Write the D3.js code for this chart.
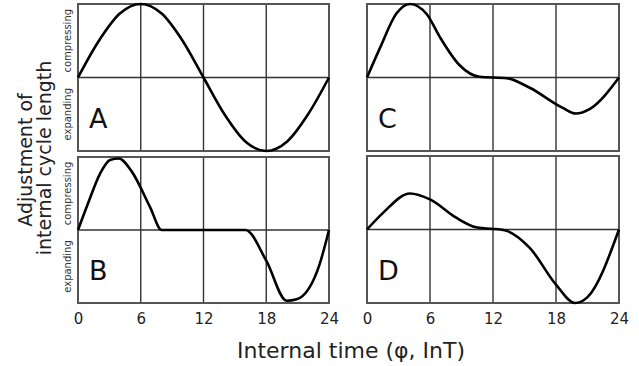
<!DOCTYPE html>
<html>
<head>
<meta charset="utf-8">
<script src="https://cdn.jsdelivr.net/npm/d3@7"></script>
<style>
  body { margin: 0; background: #fff; }
  svg { display: block; font-family: "DejaVu Sans", Verdana, sans-serif; }
</style>
</head>
<body>
<svg id="chart" width="639" height="366"></svg>
<script>
// hours of internal time, shared by the x axes
const xTicks = [0, 6, 12, 18, 24];

// panel curves: [hour, adjustment] with adjustment in -1..1
const curveA = [[0, 0], [2, 0.5], [4, 0.87], [6, 1], [8, 0.87], [10, 0.5], [12, 0], [14, -0.5], [16, -0.87], [18, -1], [20, -0.87], [22, -0.5], [24, 0]];
const curveB = [[0, 0], [1, 0.38], [2.1, 0.77], [3.06, 0.96], [3.9, 0.98], [5.1, 0.81], [6.9, 0.31], [8, 0], [12, 0], [16, 0], [18, -0.42], [19.95, -0.97], [20.9, -0.95], [23.1, -0.47], [24, 0]];
const curveC = [[0, 0], [1.26, 0.41], [2.8, 0.87], [4.1, 1.0], [5.7, 0.86], [6.9, 0.56], [8.8, 0.17], [10.7, 0.01], [13.3, -0.01], [15.5, -0.14], [18.6, -0.41], [19.9, -0.49], [21.2, -0.43], [24, 0]];
const curveD = [[0, 0], [1.55, 0.23], [4.1, 0.49], [6, 0.41], [8.5, 0.16], [10.4, 0.03], [13.1, -0.01], [15.5, -0.25], [18, -0.75], [19.8, -1.0], [21, -0.92], [24, 0]];

const panelLabels = ["A", "B", "C", "D"];

const svg = d3.select("#chart");

const panels = [
    { name: "A", data: curveA, left: 78, right: 329, top: 4, bottom: 151 },
    { name: "B", data: curveB, left: 78, right: 329, top: 157, bottom: 303 },
    { name: "C", data: curveC, left: 367, right: 619, top: 4, bottom: 151 },
    { name: "D", data: curveD, left: 367, right: 619, top: 156, bottom: 303 }
];

panels.forEach((p, i) => {
    const x = d3.scaleLinear().domain([0, 24]).range([p.left, p.right]);
    const y = d3.scaleLinear().domain([-1, 1]).range([p.bottom, p.top]);
    const g = svg.append("g");

    // vertical grid lines
    g.selectAll(".vgrid")
        .data(xTicks.slice(1, -1))
        .enter().append("line")
        .attr("x1", d => x(d)).attr("x2", d => x(d))
        .attr("y1", p.top).attr("y2", p.bottom)
        .attr("stroke", "#333").attr("stroke-width", 1.4);

    // zero line
    g.append("line")
        .attr("x1", p.left).attr("x2", p.right)
        .attr("y1", y(0)).attr("y2", y(0))
        .attr("stroke", "#333").attr("stroke-width", 1.4);

    // frame
    g.append("rect")
        .attr("x", p.left).attr("y", p.top)
        .attr("width", p.right - p.left).attr("height", p.bottom - p.top)
        .attr("fill", "none").attr("stroke", "#555").attr("stroke-width", 2);

    // curve
    const line = d3.line()
        .x(d => x(d[0]))
        .y(d => y(d[1]))
        .curve(d3.curveMonotoneX);
    g.append("path")
        .datum(p.data)
        .attr("d", line)
        .attr("fill", "none")
        .attr("stroke", "#000")
        .attr("stroke-width", 2.6)
        .attr("stroke-linejoin", "round");

    // panel letter
    g.append("text")
        .attr("x", p.left + 11)
        .attr("y", p.bottom - 23)
        .attr("font-size", 27)
        .attr("fill", "#111")
        .text(panelLabels[i]);

    // compressing / expanding labels on left panels
    if (p.left < 100) {
        const lx = p.left - 7;
        g.append("text")
            .attr("transform", `translate(${lx},${(p.top + y(0)) / 2}) rotate(-90)`)
            .attr("text-anchor", "middle")
            .attr("font-size", 10)
            .attr("fill", "#333")
            .text("compressing");
        g.append("text")
            .attr("transform", `translate(${lx},${(y(0) + p.bottom) / 2}) rotate(-90)`)
            .attr("text-anchor", "middle")
            .attr("font-size", 10)
            .attr("fill", "#333")
            .text("expanding");
    }

    // x axis tick labels under the bottom panels
    if (p.top > 100) {
        const axis = d3.axisBottom(x).tickValues(xTicks).tickSize(0).tickPadding(10);
        const ax = g.append("g")
            .attr("transform", `translate(0,${p.bottom})`)
            .call(axis);
        ax.select(".domain").remove();
        ax.selectAll("text")
            .attr("font-size", 15)
            .attr("font-family", "DejaVu Sans, Verdana, sans-serif")
            .attr("fill", "#222");
    }
});

// x axis title
svg.append("text")
    .attr("x", 351)
    .attr("y", 358)
    .attr("text-anchor", "middle")
    .attr("font-size", 22)
    .attr("fill", "#222")
    .text("Internal time (φ, InT)");

// y axis title, two lines
svg.append("text")
    .attr("transform", "translate(32,160) rotate(-90)")
    .attr("text-anchor", "middle")
    .attr("font-size", 19)
    .attr("fill", "#222")
    .text("Adjustment of");
svg.append("text")
    .attr("transform", "translate(51,158) rotate(-90)")
    .attr("text-anchor", "middle")
    .attr("font-size", 19)
    .attr("fill", "#222")
    .text("internal cycle length");
</script>
</body>
</html>
